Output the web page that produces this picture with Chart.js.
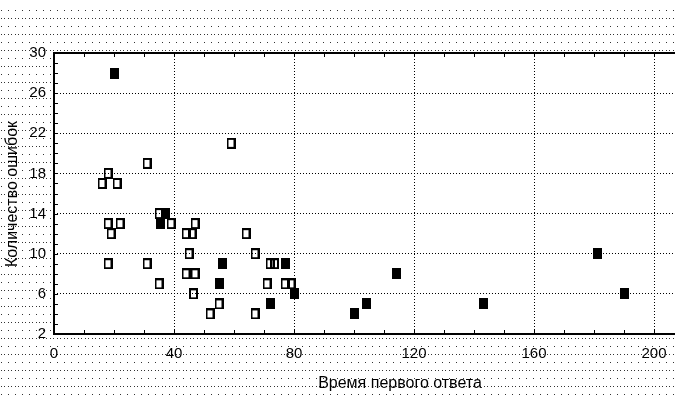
<!DOCTYPE html>
<html>
<head>
<meta charset="utf-8">
<script src="https://cdn.jsdelivr.net/npm/chart.js@4.4.1/dist/chart.umd.min.js"></script>
<style>
    html, body { margin: 0; padding: 0; background: #fff; }
    #wrap { width: 675px; height: 396px; }
</style>
</head>
<body>
<div id="wrap"><canvas id="scatterChart" width="675" height="396"></canvas></div>
<script>
// Пустые квадраты
const openX = [31, 18, 16, 21, 59, 18, 22, 19, 35, 39, 18, 31, 35, 44, 46, 47, 45, 44, 47, 46.5, 64, 67, 55, 52, 67, 72, 73.5, 71, 77, 79];
const openY = [19, 18, 17, 17, 21, 13, 13, 12, 14, 13, 9, 9, 7, 12, 12, 13, 10, 8, 8, 6, 12, 10, 5, 4, 4, 9, 9, 7, 7, 7];

// Закрашенные квадраты
const filledX = [20, 37, 35.5, 56, 55, 77, 80, 72, 100, 104, 114, 143, 181, 190];
const filledY = [28, 14, 13, 9, 7, 9, 6, 5, 4, 5, 8, 5, 10, 6];

// Подписи осей
const xTicks = [0, 40, 80, 120, 160, 200];
const yTicks = [2, 6, 10, 14, 18, 22, 26, 30];
const xTitle = 'Время первого ответа';
const yTitle = 'Количество ошибок';

const tickFont = { family: '"Liberation Sans Narrow", "Liberation Sans", Arial, sans-serif', size: 15 };

// Маркер-прямоугольник
function makeMarker(filled) {
    const c = document.createElement('canvas');
    c.width = 9;
    c.height = 11;
    const g = c.getContext('2d');
    if (filled) {
        g.fillStyle = '#000';
        g.fillRect(0, 0, 9, 11);
    } else {
        g.strokeStyle = '#000';
        g.lineWidth = 2;
        g.strokeRect(1, 1, 7, 9);
    }
    return c;
}

// Точечный фон вокруг графика
function makeDotPattern(ctx) {
    const c = document.createElement('canvas');
    c.width = 7;
    c.height = 16;
    const g = c.getContext('2d');
    g.fillStyle = '#333';
    g.fillRect(0, 0, 1, 1);
    g.fillRect(0, 8, 1, 1);
    g.fillRect(3, 8, 1, 1);
    return ctx.createPattern(c, 'repeat');
}

const backgroundPlugin = {
    id: 'dottedBackground',
    beforeDraw(chart) {
        const ctx = chart.ctx;
        const a = chart.chartArea;
        ctx.save();
        ctx.fillStyle = '#fff';
        ctx.fillRect(0, 0, chart.width, chart.height);
        ctx.translate(8, 10);
        ctx.fillStyle = makeDotPattern(ctx);
        ctx.fillRect(-8, 0, chart.width + 8, chart.height);
        ctx.restore();
        ctx.fillStyle = '#fff';
        ctx.fillRect(a.left, a.top, a.right - a.left, a.bottom - a.top);
    }
};

const framePlugin = {
    id: 'frame',
    afterDraw(chart) {
        const ctx = chart.ctx;
        const a = chart.chartArea;
        const xs = chart.scales.x;
        const ys = chart.scales.y;
        ctx.save();
        ctx.strokeStyle = '#000';
        ctx.lineWidth = 2;
        ctx.beginPath();
        ctx.moveTo(a.right, a.top);
        ctx.lineTo(a.left, a.top);
        ctx.lineTo(a.left, a.bottom);
        ctx.lineTo(a.right, a.bottom);
        ctx.stroke();

        // Мелкие деления
        ctx.lineWidth = 1;
        ctx.beginPath();
        for (let v = 10; v < xs.max; v += 10) {
            const px = Math.round(xs.getPixelForValue(v)) + 0.5;
            ctx.moveTo(px, a.bottom);
            ctx.lineTo(px, a.bottom - 4);
            ctx.moveTo(px, a.top);
            ctx.lineTo(px, a.top + 4);
        }
        for (let v = ys.min + 1; v < ys.max; v += 1) {
            const py = Math.round(ys.getPixelForValue(v)) + 0.5;
            ctx.moveTo(a.left, py);
            ctx.lineTo(a.left + 4, py);
        }
        ctx.stroke();

        // Названия осей
        ctx.fillStyle = '#000';
        ctx.font = '16px "Liberation Sans", Arial, sans-serif';
        ctx.textAlign = 'center';
        ctx.textBaseline = 'middle';
        ctx.fillText(xTitle, 400, 384);
        ctx.translate(13, 194);
        ctx.rotate(-Math.PI / 2);
        ctx.fillText(yTitle, 0, 0);
        ctx.restore();
    }
};

function toPoints(xs, ys) {
    return xs.map((x, i) => ({ x: x, y: ys[i] }));
}

const ctx = document.getElementById('scatterChart').getContext('2d');
new Chart(ctx, {
    type: 'scatter',
    data: {
        datasets: [{
            label: 'open',
            data: toPoints(openX, openY),
            pointStyle: makeMarker(false),
            pointRadius: 5
        }, {
            label: 'filled',
            data: toPoints(filledX, filledY),
            pointStyle: makeMarker(true),
            pointRadius: 5
        }]
    },
    options: {
        responsive: false,
        animation: false,
        events: [],
        layout: { autoPadding: false, padding: { top: 53, right: 0, left: 0, bottom: 0 } },
        plugins: {
            legend: { display: false },
            tooltip: { enabled: false }
        },
        scales: {
            x: {
                type: 'linear',
                min: 0,
                max: 207,
                afterBuildTicks: function(scale) {
                    scale.ticks = xTicks.map(v => ({ value: v }));
                },
                afterFit: function(scale) {
                    scale.height = 62;
                    scale.paddingLeft = 0;
                    scale.paddingRight = 0;
                },
                grid: { color: '#000', lineWidth: 1, drawTicks: false },
                border: { display: false, dash: [1, 2] },
                ticks: { color: '#000', font: tickFont, padding: 11, maxRotation: 0, autoSkip: false }
            },
            y: {
                type: 'linear',
                min: 2,
                max: 30,
                afterBuildTicks: function(scale) {
                    scale.ticks = yTicks.map(v => ({ value: v }));
                },
                afterFit: function(scale) {
                    scale.width = 54;
                    scale.paddingTop = 0;
                    scale.paddingBottom = 0;
                },
                grid: { color: '#000', lineWidth: 1, drawTicks: false },
                border: { display: false, dash: [1, 2] },
                ticks: { color: '#000', font: tickFont, padding: 8, autoSkip: false }
            }
        }
    },
    plugins: [backgroundPlugin, framePlugin]
});
</script>
</body>
</html>
